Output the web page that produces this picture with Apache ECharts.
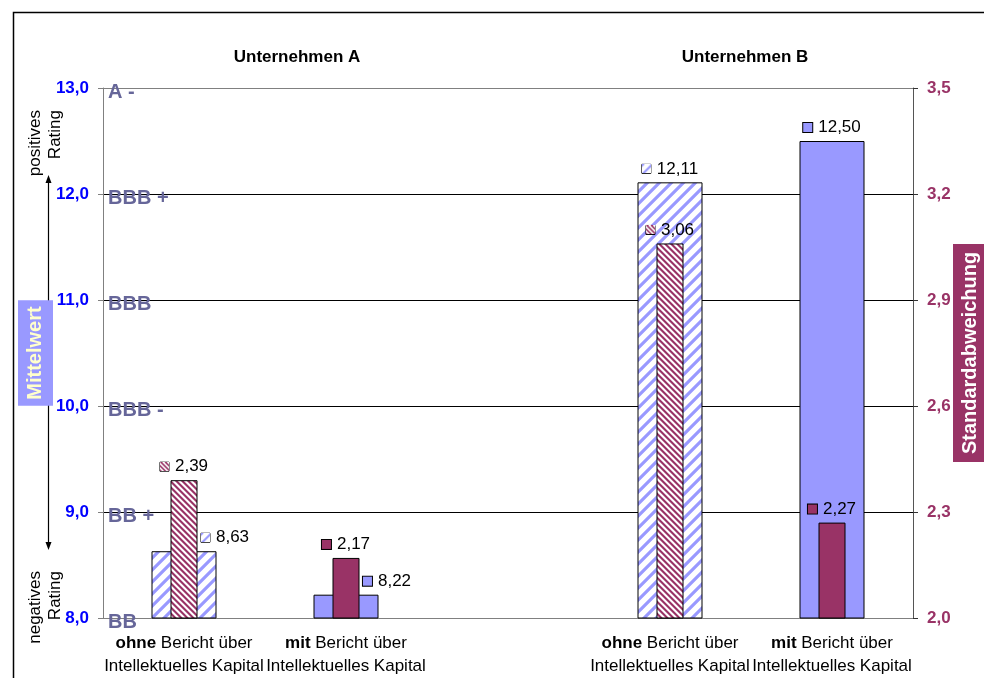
<!DOCTYPE html>
<html>
<head>
<meta charset="utf-8">
<script src="https://cdn.jsdelivr.net/npm/echarts@6/dist/echarts.min.js"></script>
<style>
  html, body { margin: 0; padding: 0; background: #fff; }
  #chart { width: 984px; height: 678px; }
</style>
</head>
<body>
<div id="chart"></div>
<script>
// Rating study: mean rating and standard deviation, with / without a report on intellectual capital
const categoryLead = ['ohne', 'mit', '', 'ohne', 'mit'];
const categoryText = ['Bericht über', 'Intellektuelles Kapital'];
const companies = ['Unternehmen A', 'Unternehmen B'];
const meanValues = [8.63, 8.22, null, 12.11, 12.50];
const sdValues = [2.39, 2.17, null, 3.06, 2.27];
const meanTicks = [8, 9, 10, 11, 12, 13];
const ratingLabels = ['BB', 'BB +', 'BBB -', 'BBB', 'BBB +', 'A -'];
const sdTicks = [2.0, 2.3, 2.6, 2.9, 3.2, 3.5];
const ratingSides = ['positives\nRating', 'negatives\nRating'];
const meanName = 'Mittelwert';
const sdName = 'Standardabweichung';

const FONT = '"Liberation Sans", Arial, sans-serif';
const BLUE = '#9999FF';
const WINE = '#993366';

// Diagonal hatch tile: dir +1 draws "/" stripes, dir -1 draws "\" stripes
function hatch(size, period, stripe, color, dir) {
  const c = document.createElement('canvas');
  c.width = c.height = size;
  const ctx = c.getContext('2d');
  const img = ctx.createImageData(size, size);
  const r = parseInt(color.slice(1, 3), 16), g = parseInt(color.slice(3, 5), 16), b = parseInt(color.slice(5, 7), 16);
  const n = 4;
  for (let y = 0; y < size; y++) {
    for (let x = 0; x < size; x++) {
      let hit = 0;
      for (let sy = 0; sy < n; sy++) {
        for (let sx = 0; sx < n; sx++) {
          const px = x + (sx + 0.5) / n, py = y + (sy + 0.5) / n;
          const s = dir > 0 ? px + py : px - py;
          const m = ((s % period) + period) % period;
          if (m < stripe) hit++;
        }
      }
      const a = hit / (n * n);
      const k = (y * size + x) * 4;
      img.data[k] = Math.round(255 + (r - 255) * a);
      img.data[k + 1] = Math.round(255 + (g - 255) * a);
      img.data[k + 2] = Math.round(255 + (b - 255) * a);
      img.data[k + 3] = 255;
    }
  }
  ctx.putImageData(img, 0, 0);
  return c;
}

const blueTile = hatch(12, 12, 4.5, BLUE, 1);
const wineTile = hatch(6, 6, 3, WINE, -1);
const blueKey = hatch(9, 9, 3, BLUE, 1);
const wineKey = hatch(9, 4.5, 2.2, WINE, -1);

const fmt = (v, d) => v.toFixed(d).replace('.', ',');

function barItem(v, i, solid, tile, key, offset) {
  if (v == null) return '-';
  const hatched = categoryLead[i] === 'ohne';
  return {
    value: v,
    itemStyle: { color: hatched ? { image: tile, repeat: 'repeat' } : solid },
    label: {
      show: true,
      position: 'top',
      distance: 5,
      offset: offset,
      formatter: '{k|}{v|' + fmt(v, 2) + '}',
      rich: {
        k: {
          width: 9, height: 9, borderColor: '#000', borderWidth: 1,
          backgroundColor: hatched ? { image: key } : solid,
          verticalAlign: 'middle'
        },
        v: { fontSize: 17, fontFamily: FONT, color: '#000', padding: [0, 0, 0, 6], verticalAlign: 'middle' }
      }
    }
  };
}

// Company A's mean labels sit to the right of the central deviation bar
const meanData = meanValues.map((v, i) => barItem(v, i, BLUE, blueTile, blueKey, i < 2 ? [41, 0] : [0, 0]));
const sdData = sdValues.map((v, i) => barItem(v, i, WINE, wineTile, wineKey, [0, 0]));

const chart = echarts.init(document.getElementById('chart'), null, { renderer: 'canvas' });

const catLabel = {
  interval: 0,
  margin: 14,
  formatter: (val, idx) => {
    const lead = categoryLead[idx];
    if (!lead) return '';
    return '{b|' + lead + '}{n| ' + categoryText[0] + '}\n{n|' + categoryText[1] + '}';
  },
  rich: {
    b: { fontFamily: FONT, fontSize: 17, fontWeight: 'bold', color: '#000', lineHeight: 23 },
    n: { fontFamily: FONT, fontSize: 17, color: '#000', lineHeight: 23 }
  }
};

chart.setOption({
  animation: false,
  backgroundColor: '#fff',
  textStyle: { fontFamily: FONT },
  grid: { left: 103, right: 71, top: 88, bottom: 60, outerBoundsMode: 'none', containLabel: false },
  xAxis: [
    {
      type: 'category', position: 'bottom', data: categoryLead, boundaryGap: true,
      axisLine: { show: true, lineStyle: { color: '#808080', width: 1 } },
      axisTick: { show: false },
      splitLine: { show: false },
      axisLabel: catLabel
    },
    {
      type: 'category', position: 'bottom', data: categoryLead, boundaryGap: true, show: false
    }
  ],
  yAxis: [
    {
      type: 'value', position: 'left',
      min: meanTicks[0], max: meanTicks[meanTicks.length - 1], interval: 1,
      name: meanName, nameLocation: 'middle', nameRotate: 90, nameGap: 50, nameMoveOverlap: false,
      nameTextStyle: {
        fontFamily: FONT, fontSize: 20, fontWeight: 'bold', color: '#FFFFCC',
        backgroundColor: BLUE, padding: [6, 6, 6, 6], lineHeight: 23
      },
      axisLine: { show: true, lineStyle: { color: '#808080', width: 1 } },
      axisTick: { show: true, inside: false, length: 5, lineStyle: { color: '#808080' } },
      axisLabel: {
        margin: 14, color: '#0000FF', fontWeight: 'bold', fontSize: 17, fontFamily: FONT,
        formatter: v => fmt(v, 1)
      },
      splitLine: {
        show: true,
        lineStyle: { color: ['#808080', '#000', '#000', '#000', '#000', '#808080'], width: 1 }
      }
    },
    {
      type: 'value', position: 'right',
      min: sdTicks[0], max: sdTicks[sdTicks.length - 1],
      name: sdName, nameLocation: 'middle', nameRotate: 90, nameGap: 40, nameMoveOverlap: false,
      nameTextStyle: {
        fontFamily: FONT, fontSize: 20, fontWeight: 'bold', color: '#fff',
        backgroundColor: WINE, padding: [6, 8, 6, 8], lineHeight: 23
      },
      axisLine: { show: true, lineStyle: { color: '#555', width: 1 } },
      axisTick: { show: true, inside: false, length: 5, customValues: sdTicks, lineStyle: { color: '#333' } },
      axisLabel: {
        margin: 14, color: WINE, fontWeight: 'bold', fontSize: 17, fontFamily: FONT,
        customValues: sdTicks,
        formatter: v => fmt(v, 1)
      },
      splitLine: { show: false }
    },
    {
      // rating grades written inside the plot next to the mean ticks
      type: 'value', position: 'left',
      min: meanTicks[0], max: meanTicks[meanTicks.length - 1], interval: 1,
      axisLine: { show: false }, axisTick: { show: false }, splitLine: { show: false },
      axisLabel: {
        inside: true, margin: 5,
        formatter: v => '{r|' + ratingLabels[meanTicks.indexOf(v)] + '}',
        rich: {
          r: { color: '#666699', fontWeight: 'bold', fontSize: 20, fontFamily: FONT, padding: [8, 0, 0, 0] }
        }
      }
    }
  ],
  series: [
    {
      name: meanName, type: 'bar', xAxisIndex: 0, yAxisIndex: 0,
      barWidth: 65, data: meanData,
      itemStyle: { borderColor: '#000', borderWidth: 1 }
    },
    {
      name: sdName, type: 'bar', xAxisIndex: 1, yAxisIndex: 1,
      barWidth: 27, data: sdData, z: 3,
      itemStyle: { borderColor: '#000', borderWidth: 1 }
    }
  ],
  graphic: [
    {
      type: 'rect', z: -5, silent: true,
      shape: { x: 13.5, y: 12.5, width: 1000, height: 700 },
      style: { fill: 'none', stroke: '#000', lineWidth: 1.5 }
    },
    {
      type: 'text', x: 297, y: 57, silent: true,
      style: { text: companies[0], align: 'center', verticalAlign: 'middle', font: 'bold 17px ' + FONT, fill: '#000' }
    },
    {
      type: 'text', x: 745, y: 57, silent: true,
      style: { text: companies[1], align: 'center', verticalAlign: 'middle', font: 'bold 17px ' + FONT, fill: '#000' }
    },
    {
      type: 'text', x: 45, y: 110, rotation: Math.PI / 2, silent: true,
      style: { text: ratingSides[0], align: 'right', verticalAlign: 'middle', font: '17px ' + FONT, lineHeight: 20, fill: '#000' }
    },
    {
      type: 'text', x: 45, y: 571, rotation: Math.PI / 2, silent: true,
      style: { text: ratingSides[1], align: 'right', verticalAlign: 'middle', font: '17px ' + FONT, lineHeight: 20, fill: '#000' }
    },
    {
      type: 'line', z: -1, silent: true,
      shape: { x1: 48.5, y1: 181, x2: 48.5, y2: 544 },
      style: { stroke: '#000', lineWidth: 1.2 }
    },
    {
      type: 'polygon', z: -1, silent: true,
      shape: { points: [[48.5, 175], [45.5, 183], [51.5, 183]] },
      style: { fill: '#000' }
    },
    {
      type: 'polygon', z: -1, silent: true,
      shape: { points: [[48.5, 550], [45.5, 542], [51.5, 542]] },
      style: { fill: '#000' }
    }
  ]
});
</script>
</body>
</html>
